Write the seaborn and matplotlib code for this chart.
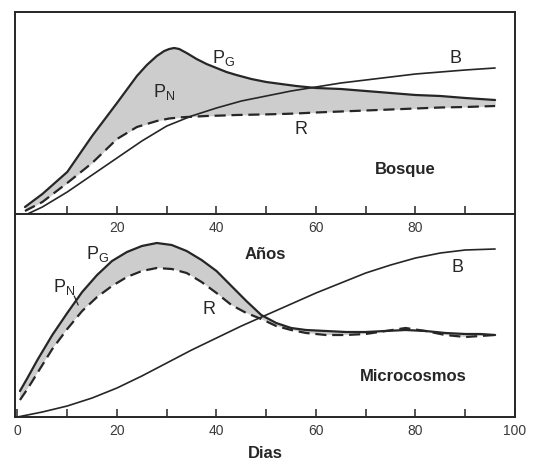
import numpy as np
import pandas as pd
import matplotlib
matplotlib.use("Agg")
import matplotlib.pyplot as plt
import seaborn as sns

# ---------------- data (arbitrary y units) ----------------
# Top panel: Bosque (x = years)
bosque_x = [1.5, 5, 10, 15, 20, 24, 26, 28, 29.5, 30.5, 31.5, 32.5, 34, 36, 38, 40, 42,
            44, 47, 50, 53, 56, 60, 65, 70, 75, 80, 85, 90, 96]
bosque_pg = [7, 20, 42, 78, 111, 138, 149, 158, 163, 165, 166, 165, 161, 155, 150, 146,
             142, 139, 135, 132, 130, 128, 126, 125, 123, 121, 119, 118, 116, 114]
bosque_r = [3, 12, 31, 51, 75, 87, 90, 93, 94.5, 95.5, 96, 96.5, 97, 97.5, 98, 98.3,
            98.6, 99, 99.3, 99.6, 100, 100.5, 101.5, 102.5, 103.5, 104.5, 105.5, 106.5,
            107, 108]
bosque_b_x = [2, 5, 10, 15, 20, 25, 30, 35, 40, 45, 50, 55, 60, 65, 70, 75, 80, 85, 90, 96]
bosque_b = [0, 7, 22, 39, 56, 73, 88, 98, 106, 113, 118, 123, 127, 131, 134, 137, 140,
            142, 144, 146]

# Bottom panel: Microcosmos (x = days)
micro_x = [0.5, 2, 4, 7, 10, 13, 16, 19, 22, 25, 28, 31, 34, 37, 40, 43, 46, 49, 52, 55,
           58, 62, 66, 70, 74, 78, 82, 86, 90, 93, 96]
micro_pg = [26, 39, 57, 82, 104, 125, 142, 156, 165, 171, 174, 172, 166, 157, 146, 131,
            116, 102, 94, 89, 87, 86, 85, 85, 86, 87, 86, 84, 83, 83, 82]
micro_r = [17, 28, 44, 68, 88, 106, 120, 131, 140, 146, 149, 148, 144, 135, 124, 112,
           104, 98, 91, 87, 84, 82, 82, 83, 86, 89, 86, 82, 80, 81, 82]
micro_b_x = [0, 5, 10, 15, 20, 25, 30, 35, 40, 45, 50, 55, 60, 65, 70, 75, 80, 85, 90, 96]
micro_b = [0, 5, 11, 19, 29, 41, 54, 67, 79, 91, 102, 113, 124, 134, 144, 152, 159, 164,
           167, 168]

top_ticks = [10, 20, 30, 40, 50, 60, 70, 80, 90]
top_ticklabels = ["", "20", "", "40", "", "60", "", "80", ""]
bot_ticks = [0, 10, 20, 30, 40, 50, 60, 70, 80, 90, 100]
bot_ticklabels = ["0", "", "20", "", "40", "", "60", "", "80", "", "100"]

# ---------------- style ----------------
sns.set_style("white")
plt.rcParams["font.family"] = ["Liberation Sans", "DejaVu Sans"]
INK = "#262626"
FILL = "#cdcdcd"

W, H = 537, 464
fig = plt.figure(figsize=(W / 100, H / 100), dpi=100)
ax2 = fig.add_axes([15 / W, (H - 418) / H, 500 / W, 203 / H])
ax1 = fig.add_axes([15 / W, (H - 215) / H, 500 / W, 202 / H])
ax1.set_zorder(3)
ax2.set_zorder(1)


def draw_panel(ax, x, pg, r, bx, b):
    df = pd.DataFrame({"x": x, "PG": pg, "R": r})
    dfb = pd.DataFrame({"x": bx, "B": b})
    pga = np.array(pg, dtype=float)
    ra = np.array(r, dtype=float)
    ax.fill_between(df["x"], df["PG"], df["R"], where=pga >= ra, interpolate=True,
                    color=FILL, linewidth=0, zorder=1)
    sns.lineplot(data=dfb, x="x", y="B", ax=ax, color=INK, linewidth=1.2,
                 estimator=None, zorder=3)
    sns.lineplot(data=df, x="x", y="R", ax=ax, color=INK, linewidth=1.6,
                 estimator=None, linestyle=(0, (5, 2.6)), zorder=4)
    sns.lineplot(data=df, x="x", y="PG", ax=ax, color=INK, linewidth=1.6,
                 estimator=None, zorder=5)
    ax.set_ylabel("")
    ax.set_yticks([])
    ax.set_xlim(-0.5, 100)
    for s in ax.spines.values():
        s.set_color(INK)
        s.set_linewidth(1.4)
    ax.tick_params(axis="x", which="both", bottom=True, top=False, direction="in",
                   length=6, width=1.1, color=INK, labelsize=10,
                   labelcolor="#3a3a3a", pad=4)


draw_panel(ax1, bosque_x, bosque_pg, bosque_r, bosque_b_x, bosque_b)
draw_panel(ax2, micro_x, micro_pg, micro_r, micro_b_x, micro_b)

ax1.set_ylim(0, 202)
ax2.set_ylim(0, 203)
ax2.spines["top"].set_visible(False)

ax1.set_xticks(top_ticks)
ax1.set_xticklabels(top_ticklabels)
ax2.set_xticks(bot_ticks)
ax2.set_xticklabels(bot_ticklabels)

ax1.set_xlabel("Años", fontsize=12, fontweight="bold", color=INK, labelpad=9)
ax2.set_xlabel("Dias", fontsize=12, fontweight="bold", color=INK, labelpad=6)

lab = dict(fontsize=13, color=INK, ha="center", va="center")
# top labels
ax1.text(41.5, 157, r"$\mathregular{P_G}$", **lab)
ax1.text(29.5, 123, r"$\mathregular{P_N}$", **lab)
ax1.text(88, 156, "B", **lab)
ax1.text(57, 85, "R", **lab)
ax1.text(78, 45, "Bosque", fontsize=12, fontweight="bold", color=INK,
         ha="center", va="center")
# bottom labels
ax2.text(16, 164, r"$\mathregular{P_G}$", **lab)
ax2.text(9.3, 131, r"$\mathregular{P_N}$", **lab)
ax2.plot([11.4, 12.2], [121, 112], color=INK, linewidth=0.9)
ax2.text(38.5, 109, "R", **lab)
ax2.text(88.5, 151, "B", **lab)
ax2.text(79.5, 41, "Microcosmos", fontsize=12, fontweight="bold", color=INK,
         ha="center", va="center")

fig.savefig("out.png", dpi=100)
